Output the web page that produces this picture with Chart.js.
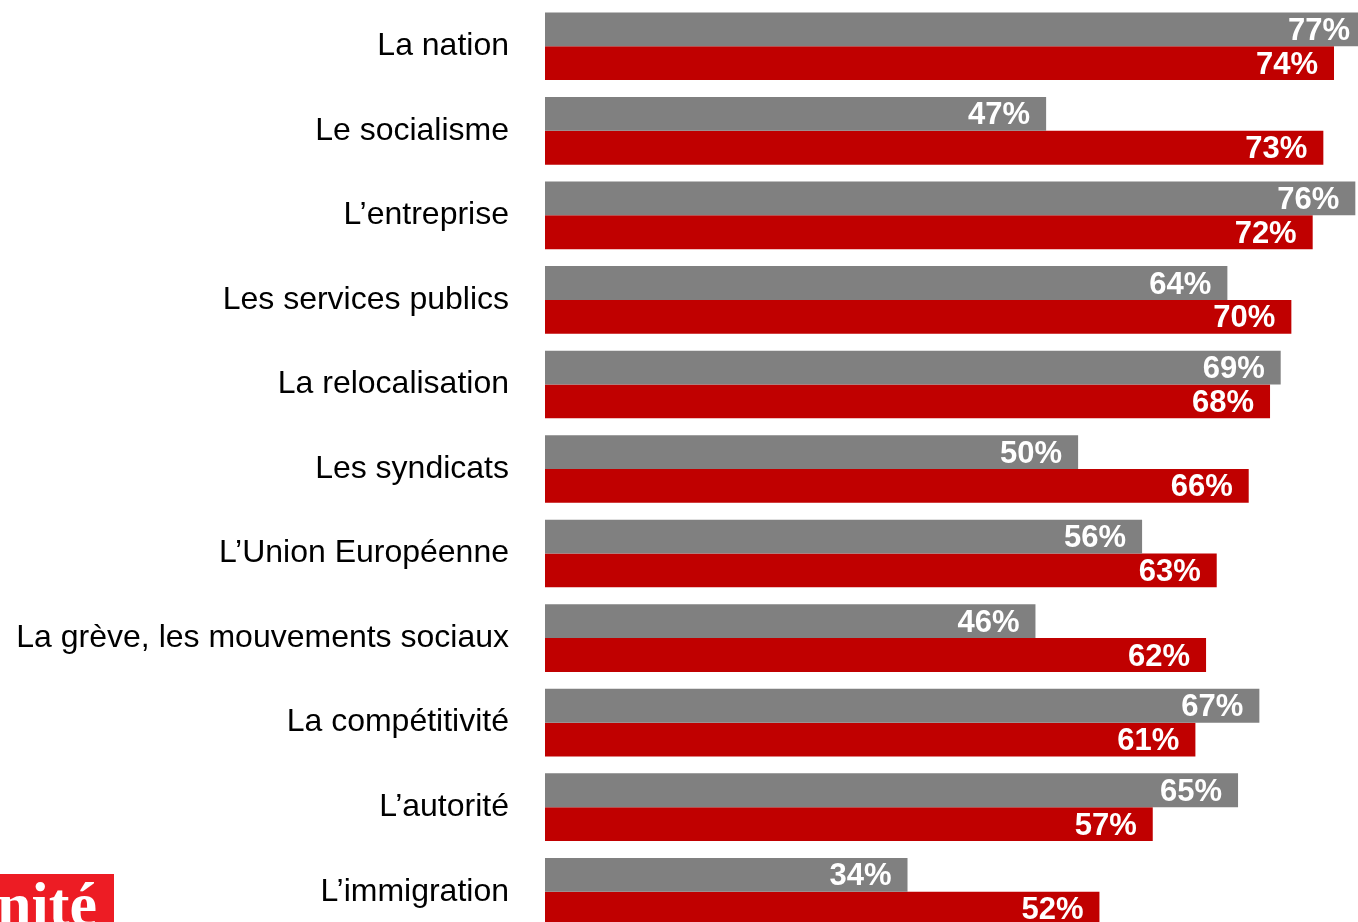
<!DOCTYPE html>
<html>
<head>
<meta charset="utf-8">
<script src="https://cdn.jsdelivr.net/npm/chart.js@4"></script>
<style>
  html, body { margin: 0; padding: 0; background: #fff; overflow: hidden; }
  #wrap { position: absolute; left: 0; top: 0; width: 1358px; height: 934px; }
  #logo { position: absolute; left: 0; top: 874px; width: 114px; height: 60px; background: #ed1c24; overflow: hidden; }
  #logo span { position: absolute; right: 17px; top: 0; font: bold 62px "Liberation Serif", serif; line-height: 60px; color: #fff; white-space: nowrap; }
</style>
</head>
<body>
<div id="wrap"><canvas id="chart"></canvas></div>
<div id="logo"><span>Humanité</span></div>
<script>
// categories and values
const categories = [
    "La nation",
    "Le socialisme",
    "L’entreprise",
    "Les services publics",
    "La relocalisation",
    "Les syndicats",
    "L’Union Européenne",
    "La grève, les mouvements sociaux",
    "La compétitivité",
    "L’autorité",
    "L’immigration"
];
const greyValues = [77, 47, 76, 64, 69, 50, 56, 46, 67, 65, 34];
const redValues = [74, 73, 72, 70, 68, 66, 63, 62, 61, 57, 52];

// --- value labels inside the bar ends ---
const barLabels = {
    id: 'barLabels',
    afterDatasetsDraw(chart) {
        const ctx = chart.ctx;
        ctx.save();
        ctx.font = "bold 31px 'Liberation Sans', Arial, sans-serif";
        ctx.fillStyle = "#ffffff";
        ctx.textAlign = "right";
        ctx.textBaseline = "middle";
        chart.data.datasets.forEach((ds, i) => {
            chart.getDatasetMeta(i).data.forEach((bar, j) => {
                ctx.fillText(ds.data[j] + "%", bar.x - 16, bar.y + 2);
            });
        });
        ctx.restore();
    }
};

const canvas = document.getElementById('chart');
const chart = new Chart(canvas, {
    type: 'bar',
    data: {
        labels: categories,
        datasets: [{
            label: 'Série grise',
            data: greyValues,
            backgroundColor: '#808080',
            categoryPercentage: 0.8,
            barPercentage: 1
        }, {
            label: 'Série rouge',
            data: redValues,
            backgroundColor: '#c00000',
            categoryPercentage: 0.8,
            barPercentage: 1
        }]
    },
    options: {
        indexAxis: 'y',
        responsive: true,
        maintainAspectRatio: false,
        animation: false,
        layout: { padding: { top: 4, bottom: 0, left: 0, right: 0 } },
        plugins: {
            legend: { display: false },
            tooltip: { enabled: false }
        },
        scales: {
            x: {
                display: false,
                min: 0,
                max: 76.25
            },
            y: {
                grid: { display: false, drawTicks: false },
                border: { display: false },
                ticks: {
                    padding: 36,
                    color: '#000000',
                    font: { family: "'Liberation Sans', Arial, sans-serif", size: 32 }
                },
                afterFit(scale) {
                    // fixed label column, no extra vertical padding from the labels
                    scale.width = 545;
                    scale.paddingTop = 0;
                    scale.paddingBottom = 0;
                }
            }
        }
    },
    plugins: [barLabels]
});
</script>
</body>
</html>
